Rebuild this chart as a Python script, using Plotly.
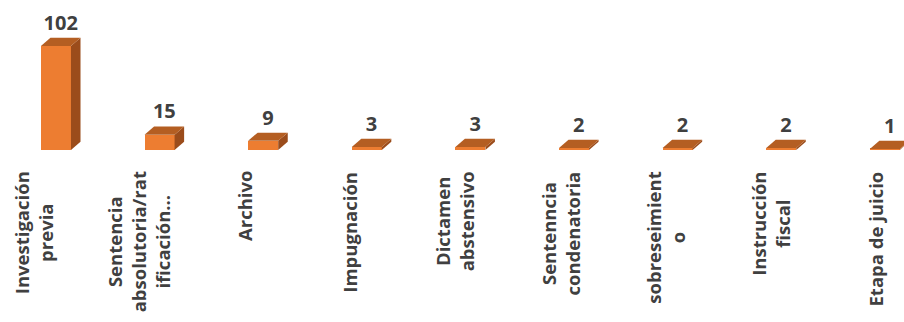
import plotly.graph_objects as go

categories = [
    "Investigación<br>previa",
    "Sentencia<br>absolutoria/rat<br>ificación...",
    "Archivo",
    "Impugnación",
    "Dictamen<br>abstensivo",
    "Sentenncia<br>condenatoria",
    "sobreseimient<br>o",
    "Instrucción<br>fiscal",
    "Etapa de juicio",
]
values = [102, 15, 9, 3, 3, 2, 2, 2, 1]

FRONT = "#ED7D31"
SIDE = "#9B4C1B"
TOP = "#B45E22"
TEXT = "#404040"

W = 0.29      # bar front width (category units)
DX = 0.092    # depth offset x (category units)
DY = 8.0      # depth offset y (value units)
LABEL_SHIFT = -0.21
LABEL_SPREAD = 1.015
VAL_PAD = 3.0

xs = list(range(len(values)))

fig = go.Figure()

# front faces
fig.add_trace(go.Bar(x=xs, y=values, width=W, marker=dict(color=FRONT, line=dict(width=0)),
                     hoverinfo="skip", showlegend=False))

# side and top faces
for i, v in zip(xs, values):
    r = i + W / 2
    l = i - W / 2
    fig.add_trace(go.Scatter(
        x=[r, r + DX, r + DX, r, r], y=[0, DY, v + DY, v, 0],
        mode="lines", fill="toself", fillcolor=SIDE, line=dict(width=0, color=SIDE),
        hoverinfo="skip", showlegend=False))
    fig.add_trace(go.Scatter(
        x=[l, l + DX, r + DX, r, l], y=[v, v + DY, v + DY, v, v],
        mode="lines", fill="toself", fillcolor=TOP, line=dict(width=0, color=TOP),
        hoverinfo="skip", showlegend=False))

# value labels
fig.add_trace(go.Scatter(
    x=[i + DX / 2 for i in xs], y=[v + DY + VAL_PAD for v in values],
    mode="text", text=[str(v) for v in values], textposition="top center",
    textfont=dict(family="Open Sans", size=20, color=TEXT, weight="bold"),
    cliponaxis=False, hoverinfo="skip", showlegend=False))

# category labels (rotated, centered lines)
for i, c in zip(xs, categories):
    fig.add_annotation(
        x=i * LABEL_SPREAD + LABEL_SHIFT, xref="x", y=-0.13, yref="paper",
        text="<b>" + c + "</b>", textangle=-90, showarrow=False,
        xanchor="center", yanchor="top", align="center",
        font=dict(family="Open Sans", size=18.5, color=TEXT))

fig.update_layout(
    width=904, height=322,
    margin=dict(l=0, r=0, t=0, b=172),
    paper_bgcolor="white", plot_bgcolor="white",
    xaxis=dict(range=[-0.54, 8.185], showgrid=False, zeroline=False, showticklabels=False,
               showline=False, ticks=""),
    yaxis=dict(range=[0, 147], showgrid=False, zeroline=False, showticklabels=False,
               showline=False, ticks=""),
    bargap=0,
)

fig.write_html("out.html")
